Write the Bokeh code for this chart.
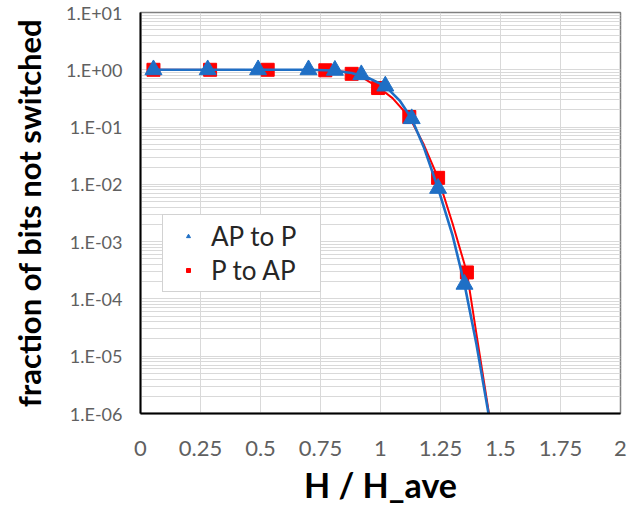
from bokeh.plotting import figure
from bokeh.models import Range1d, FixedTicker, CustomJSTickFormatter, Legend, LegendItem
from bokeh.embed import file_html
from bokeh.resources import INLINE

# ---- data ----
ap_to_p_x = [0.054, 0.28, 0.49, 0.70, 0.81, 0.92, 1.02, 1.13, 1.24, 1.35]
ap_to_p_y = [1.0, 1.0, 1.0, 1.0, 0.98, 0.82, 0.52, 0.14, 0.0085, 1.8e-4]

p_to_ap_x = [0.054, 0.29, 0.53, 0.77, 0.88, 0.99, 1.12, 1.24, 1.36]
p_to_ap_y = [1.0, 1.0, 1.0, 0.98, 0.85, 0.48, 0.15, 0.013, 2.9e-4]

# fitted curves
ap_fit_x = [0.054, 0.70, 0.80, 0.88, 0.95, 1.02, 1.08, 1.13, 1.18, 1.24, 1.30, 1.35, 1.40, 1.45]
ap_fit_y = [1.0, 1.0, 0.97, 0.88, 0.72, 0.52, 0.29, 0.14, 0.045, 0.0085, 1.3e-3, 1.8e-4, 1.6e-5, 1e-6]

p_fit_x = [0.054, 0.77, 0.85, 0.92, 0.99, 1.05, 1.12, 1.18, 1.24, 1.30, 1.36, 1.40, 1.452]
p_fit_y = [1.0, 0.99, 0.92, 0.75, 0.50, 0.32, 0.15, 0.05, 0.013, 2.1e-3, 2.9e-4, 2.4e-5, 1e-6]

x_ticks = [0, 0.25, 0.5, 0.75, 1, 1.25, 1.5, 1.75, 2]
x_tick_labels = ["0", "0.25", "0.5", "0.75", "1", "1.25", "1.5", "1.75", "2"]
y_ticks = [1e-6, 1e-5, 1e-4, 1e-3, 1e-2, 1e-1, 1e0, 1e1]
y_tick_labels = ["1.E-06", "1.E-05", "1.E-04", "1.E-03", "1.E-02", "1.E-01", "1.E+00", "1.E+01"]
y_minor = [k * d for d in y_ticks[:-1] for k in range(2, 10)]

FONT = "Lato"
BLUE = "#1f6fc5"
RED = "#ff0000"

p = figure(width=629, height=508, x_range=Range1d(0, 2), y_range=Range1d(1e-6, 10),
           y_axis_type="log", output_backend="svg", toolbar_location=None,
           min_border_left=140, min_border_right=9, min_border_top=12, min_border_bottom=95)

p.background_fill_color = "white"
p.border_fill_color = "white"
p.outline_line_color = "#808080"
p.outline_line_width = 1.5

p.xaxis.ticker = FixedTicker(ticks=x_ticks)
p.yaxis.ticker = FixedTicker(ticks=y_ticks, minor_ticks=y_minor)
p.xaxis.formatter = CustomJSTickFormatter(args=dict(t=x_ticks, l=x_tick_labels), code="""
for (let i = 0; i < t.length; i++) { if (Math.abs(tick - t[i]) < 1e-9) return l[i]; }
return "";
""")
p.yaxis.formatter = CustomJSTickFormatter(args=dict(t=y_ticks, l=y_tick_labels), code="""
for (let i = 0; i < t.length; i++) { if (Math.abs(Math.log10(tick) - Math.log10(t[i])) < 1e-6) return l[i]; }
return "";
""")

for ax in (p.xaxis, p.yaxis):
    ax.axis_line_color = "black"
    ax.axis_line_width = 2
    ax.major_tick_line_color = None
    ax.minor_tick_line_color = None
    ax.major_tick_out = 0
    ax.minor_tick_out = 0
    ax.major_tick_in = 0
    ax.minor_tick_in = 0
    ax.major_label_text_font = FONT
    ax.major_label_text_color = "#606060"
    ax.axis_label_text_font = FONT
    ax.axis_label_text_font_style = "bold"
    ax.axis_label_text_color = "black"

p.xaxis.major_label_text_font_size = "22px"
p.yaxis.major_label_text_font_size = "18px"
p.xaxis.major_label_standoff = 27
p.yaxis.major_label_standoff = 18
p.xaxis.axis_label = "H / H_ave"
p.yaxis.axis_label = "fraction of bits not switched"
p.xaxis.axis_label_text_font_size = "34px"
p.yaxis.axis_label_text_font_size = "31px"
p.xaxis.axis_label_standoff = 5
p.yaxis.axis_label_standoff = 15

p.xgrid.grid_line_color = "#d9d9d9"
p.xgrid.grid_line_width = 1
p.ygrid.grid_line_color = "#d9d9d9"
p.ygrid.grid_line_width = 1
p.ygrid.minor_grid_line_color = "#d9d9d9"
p.ygrid.minor_grid_line_width = 1

# red series first, blue on top
p.line(p_fit_x, p_fit_y, line_color=RED, line_width=2)
r_red = p.scatter(p_to_ap_x, p_to_ap_y, marker="square", size=13, fill_color=RED, line_color=RED)
p.line(ap_fit_x, ap_fit_y, line_color=BLUE, line_width=2.6)
r_blue = p.scatter(ap_to_p_x, ap_to_p_y, marker="triangle", size=17, fill_color=BLUE, line_color=BLUE)

legend = Legend(items=[LegendItem(label="AP to P", renderers=[r_blue]),
                       LegendItem(label="P to AP", renderers=[r_red])],
                location=(22, 121))
legend.label_text_font = FONT
legend.label_text_font_size = "26px"
legend.label_text_color = "#262626"
legend.glyph_width = 40
legend.glyph_height = 10
legend.label_height = 10
legend.label_width = 104
legend.spacing = 2
legend.padding = 5
legend.margin = 0
legend.label_standoff = 3
legend.border_line_color = "#a6a6a6"
legend.border_line_width = 1
legend.background_fill_color = "white"
legend.background_fill_alpha = 1
p.add_layout(legend)

open("out.html", "w").write(file_html(p, INLINE))
